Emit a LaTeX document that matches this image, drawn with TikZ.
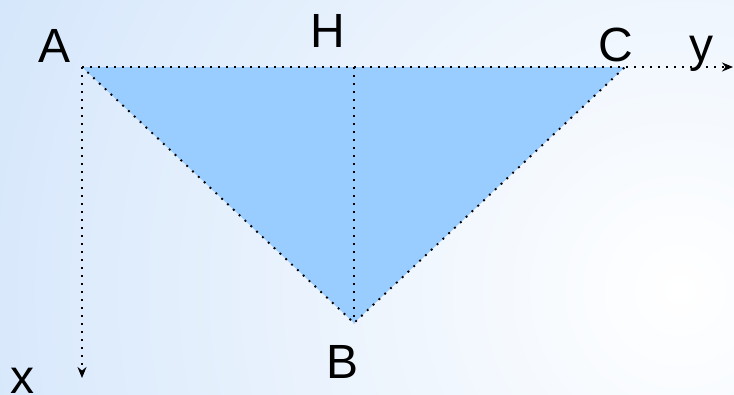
\documentclass[tikz,border=0pt]{standalone}
\usepackage{fontspec}
\setmainfont{Liberation Sans}
\usetikzlibrary{arrows.meta}
\definecolor{triblue}{HTML}{99CCFF}
\definecolor{bgblue}{HTML}{D4E6FB}
\tikzset{
  lbl/.style={inner sep=0pt, anchor=base, font=\fontsize{48}{50}\selectfont},
  dots/.style={line width=1.9pt, dash pattern=on 1.9pt off 6.1pt},
  axis/.style={dots, -{Stealth[length=11pt, width=9pt]}}
}

\begin{document}
\begin{tikzpicture}[x=1pt, y=-1pt]
    \useasboundingbox (0,0) rectangle (734,394);
    % background
    \begin{scope}
      \clip (0,0) rectangle (734,394);
      \shade[inner color=white, outer color=bgblue] (680,290) circle (760);
    \end{scope}
    % points
    \coordinate (pa) at (82,67);
    \coordinate (pc) at (625,67);
    \coordinate (pb) at (354,323);
    \coordinate (ph) at (354,67);
    \coordinate (ey) at (733,67);
    \coordinate (ex) at (82,378);
    % labels
    \node[lbl] (a) at (55,62) {A};
    \node[lbl] (h) at (328,47) {H};
    \node[lbl] (c) at (616,61) {C};
    \node[lbl] (b) at (343,378) {B};
    \node[lbl] (y) at (701,61) {y};
    \node[lbl] (x) at (22,393) {x};
    % triangle
    \fill[triblue] (pa) -- (pc) -- (pb) -- cycle;
    \draw[dots] (pa) -- (pc) -- (pb) -- cycle;
    \draw[dots] (ph) -- (pb);
    % axes
    \draw[axis] (pa) -- (ey);
    \draw[axis] (pa) -- (ex);
\end{tikzpicture}
\end{document}
